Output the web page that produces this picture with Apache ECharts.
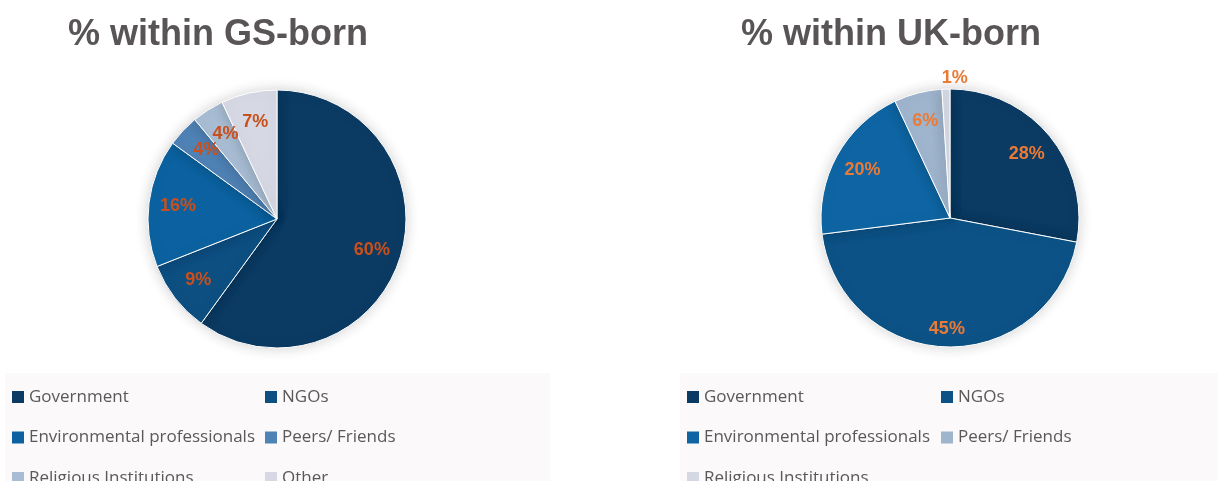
<!DOCTYPE html>
<html>
<head>
<meta charset="utf-8">
<script src="https://cdn.jsdelivr.net/npm/echarts@6/dist/echarts.min.js"></script>
<style>
  html, body { margin: 0; padding: 0; background: #ffffff; }
  #chart { width: 1225px; height: 481px; }
</style>
</head>
<body>
<div id="chart"></div>
<script>
// Sources of information, % of respondents
const gsCategories = ['Government', 'NGOs', 'Environmental professionals', 'Peers/ Friends', 'Religious Institutions', 'Other'];
const gsValues = [60, 9, 16, 4, 4, 7];
const gsColors = ['#0b3a62', '#0e4f82', '#0c62a0', '#4f82b5', '#a8bdd3', '#d6d9e3'];

const ukCategories = ['Government', 'NGOs', 'Environmental professionals', 'Peers/ Friends', 'Religious Institutions'];
const ukValues = [28, 45, 20, 6, 1];
const ukColors = ['#0b3b63', '#0d5286', '#0f65a3', '#9fb5cd', '#d3d8e2'];

const titles = ['% within GS-born', '% within UK-born'];

const R = 129;
const legendFont = { color: '#595959', fontSize: 17, fontFamily: 'Open Sans, sans-serif' };

function pieSlices(names, values, colors) {
  return names.map((n, i) => ({ name: n, value: values[i], itemStyle: { color: colors[i] } }));
}

function labelSlices(names, values, tweaks) {
  return names.map((n, i) => {
    const d = { name: n, value: values[i] };
    if (tweaks[i]) d.label = { offset: tweaks[i] };
    return d;
  });
}

function pieSeries(id, center, names, values, colors) {
  return {
    type: 'pie', id: id, center: center, radius: R,
    startAngle: 90, clockwise: true, silent: true,
    label: { show: false }, labelLine: { show: false },
    itemStyle: { borderColor: '#ffffff', borderWidth: 1, shadowBlur: 14, shadowColor: 'rgba(0,0,0,0.18)' },
    emphasis: { disabled: true },
    data: pieSlices(names, values, colors)
  };
}

// transparent ring on top of each pie, carrying the value labels
function labelSeries(id, center, names, values, color, tweaks) {
  return {
    type: 'pie', id: id, center: center, radius: [R / 2, R],
    startAngle: 90, clockwise: true, silent: true,
    avoidLabelOverlap: false,
    labelLayout: { hideOverlap: false },
    itemStyle: { color: 'rgba(0,0,0,0)' },
    emphasis: { disabled: true },
    label: {
      show: true, position: 'inside', formatter: '{c}%',
      color: color, fontSize: 18, fontWeight: 'bold', fontFamily: 'Liberation Sans, Arial, sans-serif'
    },
    labelLine: { show: false },
    data: labelSlices(names, values, tweaks)
  };
}

function legendCol(left, names, colors, idxs) {
  return {
    left: left, top: 383.5, height: 120, orient: 'vertical', itemGap: 23.5,
    itemWidth: 12, itemHeight: 12, icon: 'rect',
    textStyle: legendFont, selectedMode: false,
    data: idxs.map(i => ({ name: names[i], itemStyle: { color: colors[i], borderWidth: 0, shadowBlur: 0 } }))
  };
}

const chart = echarts.init(document.getElementById('chart'));
chart.setOption({
  backgroundColor: '#ffffff',
  animation: false,
  title: [
    { text: titles[0], left: 63, top: 12, textStyle: { fontSize: 36, fontWeight: 'bold', color: '#595556', fontFamily: 'Liberation Sans, Arial, sans-serif' } },
    { text: titles[1], left: 736, top: 12, textStyle: { fontSize: 36, fontWeight: 'bold', color: '#595556', fontFamily: 'Liberation Sans, Arial, sans-serif' } }
  ],
  graphic: [
    { type: 'rect', z: -1, shape: { x: 5, y: 373, width: 545, height: 110 }, style: { fill: '#fbf9f9' } },
    { type: 'rect', z: -1, shape: { x: 680, y: 373, width: 538, height: 110 }, style: { fill: '#fbf9f9' } }
  ],
  legend: [
    legendCol(7, gsCategories, gsColors, [0, 2, 4]),
    legendCol(260, gsCategories, gsColors, [1, 3, 5]),
    legendCol(682, ukCategories, ukColors, [0, 2, 4]),
    legendCol(936, ukCategories, ukColors, [1, 3])
  ],
  series: [
    pieSeries('gs', [277, 219], gsCategories, gsValues, gsColors),
    labelSeries('gsLabels', [277, 219], gsCategories, gsValues, '#c9501c', { 3: [2, -1], 4: [2, -1] }),
    pieSeries('uk', [950, 218], ukCategories, ukValues, ukColors),
    labelSeries('ukLabels', [950, 218], ukCategories, ukValues, '#eb7a35', { 1: [0, 11], 4: [8, -40] })
  ]
});
</script>
</body>
</html>
